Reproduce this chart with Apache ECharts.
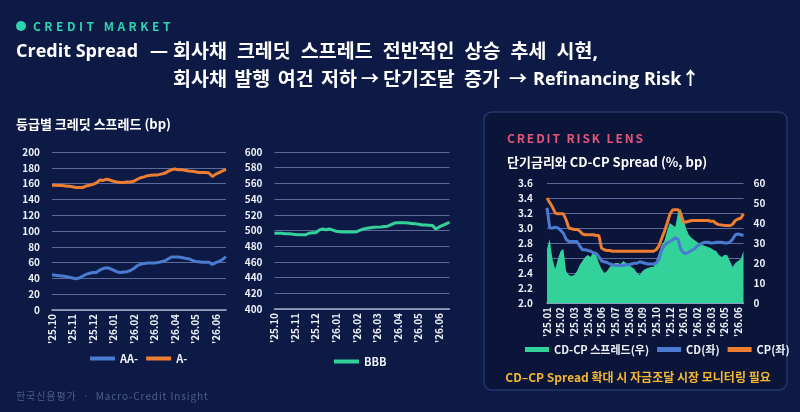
<!DOCTYPE html>
<html><head><meta charset="utf-8">
<script src="https://cdn.jsdelivr.net/npm/echarts@6/dist/echarts.min.js"></script>
<style>html,body{margin:0;padding:0;background:#0d1a46;}#c{width:800px;height:412px;}</style>
</head><body><div id="c"></div>
<script>
// ---------- DATA ----------
const spreadDates = [
 '25.10.01','25.10.06','25.10.11','25.10.16','25.10.21','25.10.26',
 '25.11.01','25.11.06','25.11.11','25.11.16','25.11.21','25.11.26',
 '25.12.01','25.12.06','25.12.11','25.12.16','25.12.21','25.12.26',
 '26.01.01','26.01.06','26.01.11','26.01.16','26.01.21','26.01.26',
 '26.02.01','26.02.06','26.02.11','26.02.16','26.02.21','26.02.26',
 '26.03.01','26.03.06','26.03.11','26.03.16','26.03.21','26.03.26',
 '26.04.01','26.04.06','26.04.11','26.04.16','26.04.21','26.04.26',
 '26.05.01','26.05.06','26.05.11','26.05.16','26.05.21','26.05.26',
 '26.06.01','26.06.06','26.06.11','26.06.16'
];
const aaMinus = [44.5,44,43.5,43,42.5,41.5,40.5,39.5,40.5,43,45,46.5,47.5,47.5,50.5,52.5,53.5,52.5,
 50.5,48.5,47.5,48,48.5,50,52.5,56,58,59,59.5,59.5,59.5,60,61,62,64.5,67,67,67,66.5,65.5,65,63,
 61.5,61,60.5,60.5,60.5,57.5,60,61.5,64,67.5];
const aMinus = [158,158,157.5,157.5,157,156.5,156,155,155,155,157,158,159,161,164.5,164,165.5,164.5,
 163,162,161.5,161.5,162,162,163,165.5,167.5,168.5,170,170.5,171,171,172,173,175.5,177.5,178.5,177.5,
 177.5,177,176,175.5,175,174,174,174,173.5,169,172,174,176,178];
const bbb = [496.5,496.5,496.5,496,496,495.5,495,494.5,494.5,494.5,496.5,497,497,500.5,502,501,502,500.5,
 499,498.5,498,498,498,498,498.5,500.5,502,503,503.5,504,504.3,504.5,505,505.5,507.5,509.5,510,510,510,
 509.5,509,508.5,508,507,507,506.8,506.5,502,504.5,506.5,508.5,510.5];
const gradeNames = ['AA-','A-','BBB'];

const cdcpDates = [
 '25.01.02','25.01.09','25.01.16','25.01.23','25.01.31',
 '25.02.06','25.02.13','25.02.20','25.02.27','25.03.06',
 '25.03.13','25.03.20','25.03.27','25.04.03','25.04.10',
 '25.04.17','25.04.24','25.05.02','25.05.13','25.05.22',
 '25.06.02','25.06.10','25.06.17','25.06.24','25.07.01',
 '25.07.07','25.07.14','25.07.21','25.07.28','25.08.04',
 '25.08.11','25.08.19','25.08.26','25.09.02','25.09.09',
 '25.09.15','25.09.22','25.09.29','25.10.13','25.10.20',
 '25.10.27','25.11.03','25.11.10','25.11.17','25.11.24',
 '25.12.01','25.12.08','25.12.15','25.12.22','25.12.29',
 '26.01.05','26.01.12','26.01.19','26.01.26','26.02.02',
 '26.02.09','26.02.20','26.02.27','26.03.06','26.03.13',
 '26.03.20','26.03.30','26.04.08','26.04.17','26.04.24',
 '26.05.04','26.05.11','26.05.18','26.05.26','26.06.01',
 '26.06.08','26.06.12','26.06.18'
];
const cdRate = [3.27,3.00,3.00,3.01,3.00,2.97,2.93,2.85,2.82,2.82,2.82,2.82,2.76,2.71,2.71,2.70,2.69,2.67,
 2.66,2.62,2.56,2.55,2.54,2.52,2.51,2.50,2.50,2.50,2.50,2.51,2.51,2.52,2.53,2.53,2.55,2.54,2.53,2.52,
 2.52,2.52,2.53,2.58,2.70,2.77,2.80,2.82,2.84,2.87,2.85,2.72,2.67,2.66,2.68,2.70,2.72,2.76,2.78,2.80,
 2.81,2.81,2.80,2.80,2.81,2.81,2.81,2.80,2.80,2.81,2.85,2.91,2.92,2.91,2.90];
const cpRate = [3.40,3.34,3.28,3.20,3.19,3.19,3.19,3.11,3.00,2.99,2.98,2.98,2.96,2.92,2.91,2.91,2.91,2.91,
 2.90,2.90,2.73,2.71,2.70,2.70,2.69,2.69,2.69,2.69,2.69,2.69,2.69,2.69,2.69,2.69,2.69,2.69,2.69,2.69,
 2.69,2.69,2.71,2.76,2.86,2.95,3.06,3.18,3.24,3.245,3.245,3.19,3.08,3.08,3.09,3.10,3.10,3.10,3.10,3.10,
 3.10,3.10,3.09,3.09,3.06,3.045,3.04,3.035,3.035,3.03,3.05,3.10,3.12,3.13,3.19];
const cdcpSpread = [27,32,22,17,22,26,27,16,14,13.5,14,16,19,21,23,24,23,26,24,20,17,15,16,18,19,20,20,
 19.5,21,20,19,18,17,15,14,16,17,17.5,18,18,21,25,29,31,36,40,39,38,45,47,42,37,34,32.5,31.5,30.5,29.5,
 29,28.5,28,27.5,26.5,26,24,23,24,24,21,18,20,21,22,26];
const rateNames = ['CD-CP 스프레드(우)','CD(좌)','CP(좌)'];

// ---------- STYLE ----------
const FONT = '"Noto Sans CJK KR","Noto Sans",sans-serif';
const TITLE_FONT = '"Open Sans","Noto Sans CJK KR",sans-serif';
const TXT = '#eef1f8';
const SPLIT = '#5b6a9a';
const AXIS = '#a5adc8';
const BLUE = '#4a7bd0', ORANGE = '#ed7d31', GREEN = '#33d29b';

const measureCtx = document.createElement('canvas').getContext('2d');
function tstyle(s, size, weight, color, align, family) {
  return {text: s, fontSize: size, fontWeight: weight, fontFamily: family || FONT, fill: color,
    verticalAlign: 'middle', align: align || 'left'};
}
// letter-spaced text
function spaced(str, x, y, size, weight, color, gap) {
  measureCtx.font = weight + ' ' + size + 'px ' + FONT;
  const children = [];
  let cx = 0;
  for (const ch of str) {
    children.push({type:'text', x: cx, y: 0, style: tstyle(ch, size, weight, color)});
    cx += measureCtx.measureText(ch).width + gap;
  }
  return {type:'group', x: x, y: y, children: children};
}
// title line made of segments [text, xStart, xEnd|null, size]; words of a segment with xEnd spread to fill it
function titleLine(segs, y, color) {
  const children = [];
  segs.forEach(seg => {
    const [str, x0, x1, size] = seg;
    measureCtx.font = 'bold ' + size + 'px ' + TITLE_FONT;
    if (x1 === null) {
      children.push({type:'text', x: x0, y: 0, style: tstyle(str, size, 'bold', color, 'left', TITLE_FONT)});
      return;
    }
    const words = str.split(' ');
    const ws = words.map(w => measureCtx.measureText(w).width);
    const gap = (x1 - x0 - ws.reduce((a, b) => a + b, 0)) / Math.max(1, words.length - 1);
    let cx = x0;
    words.forEach((w, i) => {
      children.push({type:'text', x: cx, y: 0, style: tstyle(w, size, 'bold', color, 'left', TITLE_FONT)});
      cx += ws[i] + gap;
    });
  });
  return {type:'group', x: 0, y: y, children: children};
}
function txt(str, x, y, size, color, align) {
  return {type:'text', x: x, y: y, style: tstyle(str, size, 'bold', color, align)};
}

const axisLbl = {color: TXT, fontWeight: 'bold', fontSize: 10, fontFamily: FONT};
function monthX(gridIndex, data, interval) {
  return {type:'category', gridIndex: gridIndex, data: data, boundaryGap: false,
    axisLine:{show:true, lineStyle:{color: AXIS, width: 1.5}}, axisTick:{show:false},
    axisLabel: Object.assign({}, axisLbl, {rotate: 90, margin: 4, interval: interval,
      formatter: v => "'" + v.slice(0,5)})};
}
function valY(gridIndex, min, max, interval, extra) {
  return Object.assign({type:'value', gridIndex: gridIndex, min: min, max: max, interval: interval,
    axisLine:{show:false}, axisTick:{show:false},
    splitLine:{show:true, lineStyle:{color: SPLIT, width: 1}},
    axisLabel: Object.assign({}, axisLbl, {margin: 12})}, extra || {});
}
const firstOfMonth = (i, v) => v.slice(6) === '01';
const legendText = {color: TXT, fontWeight: 'bold', fontSize: 11, fontFamily: FONT};

const option = {
  backgroundColor: '#0d1a46',
  animation: false,
  textStyle: {fontFamily: FONT},
  graphic: [
    {type:'rect', z: -10, silent: true, shape:{x:484, y:112, width:303, height:278, r:8},
      style:{fill:'#0a1539', stroke:'#25366a', lineWidth:1.5}},
    {type:'circle', shape:{cx:21, cy:26, r:5}, style:{fill:'#2ed3b0'}},
    spaced('CREDIT MARKET', 33, 26, 12, 'bold', '#2ed3b0', 3.5),
    titleLine([['Credit Spread', 16, null, 18], ['—', 150, null, 18],
      ['회사채 크레딧 스프레드 전반적인 상승 추세 시현,', 173, 598, 19.5]], 52, '#ffffff'),
    titleLine([['회사채 발행 여건 저하', 173, 357, 19.5], ['→', 361, null, 18], ['단기조달 증가', 383, 500, 19.5],
      ['→', 509, null, 18], ['Refinancing Risk↑', 533, null, 18]], 80, '#ffffff'),
    txt('등급별 크레딧 스프레드 (bp)', 16, 124, 13, '#ffffff'),
    spaced('CREDIT RISK LENS', 507, 138, 12, 'bold', '#e6557a', 1.9),
    txt('단기금리와 CD-CP Spread (%, bp)', 507, 162, 13, '#ffffff'),
    txt('CD–CP Spread 확대 시 자금조달 시장 모니터링 필요', 638, 377, 12, '#f5b731', 'center'),
    spaced('한국신용평가  ·  Macro-Credit Insight', 16, 396, 10, 'normal', '#4e5d8c', 0.9)
  ],
  grid: [
    {left: 52, top: 152, width: 174, height: 158, containLabel: false, outerBoundsMode: 'none'},
    {left: 274.5, top: 152, width: 175, height: 157, containLabel: false, outerBoundsMode: 'none'},
    {left: 547, top: 183, width: 196.5, height: 120, containLabel: false, outerBoundsMode: 'none'}
  ],
  xAxis: [
    monthX(0, spreadDates, firstOfMonth),
    monthX(1, spreadDates, firstOfMonth),
    monthX(2, cdcpDates, 4)
  ],
  yAxis: [
    valY(0, 0, 200, 20),
    valY(1, 400, 600, 20),
    valY(2, 2.0, 3.6, 0.2, {axisLabel: Object.assign({}, axisLbl, {margin: 14, formatter: v => v.toFixed(1)})}),
    valY(2, 0, 60, 10, {position: 'right', splitLine:{show:false}, axisLabel: Object.assign({}, axisLbl, {margin: 10})})
  ],
  legend: [
    {data: [gradeNames[0], gradeNames[1]], left: 85, top: 348, icon: 'rect', itemWidth: 25, itemHeight: 4,
      itemGap: 8, textStyle: legendText},
    {data: [gradeNames[2]], left: 329, top: 351, icon: 'rect', itemWidth: 25, itemHeight: 4,
      textStyle: legendText},
    {data: rateNames, left: 520, top: 339, icon: 'rect', itemWidth: 24, itemHeight: 5, itemGap: 8,
      textStyle: legendText}
  ],
  series: [
    {name: gradeNames[0], type:'line', xAxisIndex:0, yAxisIndex:0, data: aaMinus, showSymbol:false,
      color: BLUE, lineStyle:{width:3}},
    {name: gradeNames[1], type:'line', xAxisIndex:0, yAxisIndex:0, data: aMinus, showSymbol:false,
      color: ORANGE, lineStyle:{width:3}},
    {name: gradeNames[2], type:'line', xAxisIndex:1, yAxisIndex:1, data: bbb, showSymbol:false,
      color: GREEN, lineStyle:{width:3}},
    {name: rateNames[0], type:'line', xAxisIndex:2, yAxisIndex:3, data: cdcpSpread, showSymbol:false,
      color: GREEN, lineStyle:{width:0}, areaStyle:{color: GREEN, opacity: 1}},
    {name: rateNames[1], type:'line', xAxisIndex:2, yAxisIndex:2, data: cdRate, showSymbol:false,
      color: BLUE, lineStyle:{width:3}},
    {name: rateNames[2], type:'line', xAxisIndex:2, yAxisIndex:2, data: cpRate, showSymbol:false,
      color: ORANGE, lineStyle:{width:3}}
  ]
};
const chart = echarts.init(document.getElementById('c'));
chart.setOption(option);
</script></body></html>
